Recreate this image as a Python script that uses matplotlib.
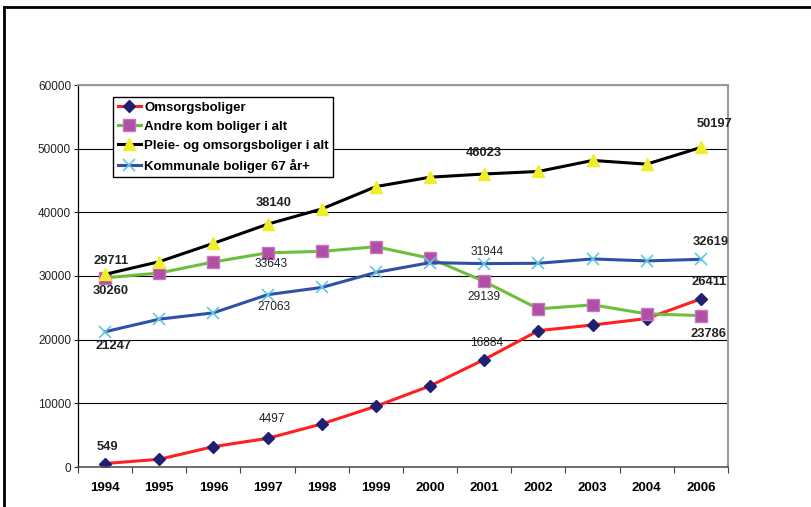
"""Pleie- og omsorgsboliger 1994-2006, line chart."""

import matplotlib
matplotlib.use("Agg")
import matplotlib.pyplot as plt
from matplotlib.lines import Line2D
from matplotlib.ticker import FixedLocator, NullFormatter

years = ["1994", "1995", "1996", "1997", "1998", "1999", "2000",
         "2001", "2002", "2003", "2004", "2006"]

omsorgsboliger = [549, 1210, 3200, 4497, 6760, 9540, 12740,
                  16884, 21420, 22300, 23320, 26411]
andre_kom = [29711, 30470, 32200, 33643, 33870, 34600, 32790,
             29139, 24840, 25470, 24050, 23786]
pleie_omsorg = [30260, 32250, 35130, 38140, 40530, 44040, 45520,
                46023, 46420, 48150, 47570, 50197]
kommunale_67 = [21247, 23220, 24210, 27063, 28200, 30560, 32100,
                31944, 32000, 32680, 32370, 32619]

series_names = ["Omsorgsboliger", "Andre kom boliger i alt",
                "Pleie- og omsorgsboliger i alt", "Kommunale boliger 67 år+"]

# (series index, year index, offset px, bold)
labels = [
    (0, 0, (2, 17), True),
    (0, 3, (4, 19), False),
    (0, 7, (2, 17), False),
    (0, 11, (8, 17), True),
    (1, 0, (6, 17), True),
    (1, 3, (4, -11), False),
    (1, 7, (0, -16), False),
    (1, 11, (8, -18), True),
    (2, 0, (6, -17), True),
    (2, 3, (6, 21), True),
    (2, 7, (0, 21), True),
    (2, 11, (14, 23), True),
    (3, 0, (8, -14), True),
    (3, 3, (6, -12), False),
    (3, 7, (3, 12), False),
    (3, 11, (10, 17), True),
]

FONT = ["Liberation Sans", "DejaVu Sans"]
plt.rcParams["font.family"] = FONT

W, H = 812, 507
fig = plt.figure(figsize=(W / 100, H / 100), dpi=100)
ax = fig.add_axes([78 / W, 1 - 467 / H, 650 / W, 382 / H])

x = list(range(len(years)))
data = [omsorgsboliger, andre_kom, pleie_omsorg, kommunale_67]
styles = [
    dict(color="#ff2020", marker="D", ms=6.5, mfc="#1f2070", mec="#1f2070"),
    dict(color="#6cbf3c", marker="s", ms=9, mfc="#b04ea8", mec="#c07ab8"),
    dict(color="#000000", marker="^", ms=9, mfc="#f0ee2a", mec="#f0ee2a"),
    dict(color="#3050a8", marker="x", ms=8, mfc="#60c8e0", mec="#60c8e0", mew=1.2),
]
for vals, name, st in zip(data, series_names, styles):
    ax.plot(x, vals, lw=2.2, label=name, **st)

for si, yi, (dx, dy), bold in labels:
    v = data[si][yi]
    ax.annotate(str(v), (x[yi], v), xytext=(dx, dy), textcoords="offset pixels",
                ha="center", va="center", fontsize=9.3 if bold else 8.6,
                fontweight="bold" if bold else "normal", color="#222222")

ax.set_ylim(0, 60000)
ax.set_xlim(-0.5, len(years) - 0.5)
ax.set_yticks(range(0, 60001, 10000))
ax.tick_params(axis="y", direction="out", length=3, width=0.8, pad=2, labelsize=8.5,
               colors="#222222")
ax.yaxis.grid(True, color="black", lw=0.8)
ax.set_axisbelow(True)

# category axis: ticks between categories, labels centred
ax.xaxis.set_major_locator(FixedLocator([i - 0.5 for i in range(len(years) + 1)]))
ax.xaxis.set_major_formatter(NullFormatter())
ax.xaxis.set_minor_locator(FixedLocator(x))
ax.set_xticklabels(years, minor=True)
ax.tick_params(axis="x", which="major", direction="out", length=4, width=0.8,
               color="#444444")
ax.tick_params(axis="x", which="minor", length=0, pad=11, labelsize=8.2)
for t in ax.get_xticklabels(minor=True):
    t.set_fontweight("bold")
    t.set_family(["Liberation Sans Narrow", "Liberation Sans"])
    t.set_fontsize(9.5)

ax.spines["left"].set_color("black")
ax.spines["left"].set_linewidth(0.9)
ax.spines["bottom"].set_color("#555555")
ax.spines["bottom"].set_linewidth(1.2)
for s in ("top", "right"):
    ax.spines[s].set_color("#9a9a9a")
    ax.spines[s].set_linewidth(1.5)

leg = ax.legend(loc="upper left", bbox_to_anchor=(35 / 650, 1 - 11.7 / 382),
                borderaxespad=0, fancybox=False, edgecolor="black",
                framealpha=1, prop={"weight": "bold", "size": 9.5},
                handlelength=1.8, handletextpad=0.2, labelspacing=0.52,
                borderpad=0.35)
leg.get_frame().set_linewidth(1.0)

# outer chart frame (top and left visible)
fig.add_artist(Line2D([4 / W, 1], [1 - 7 / H, 1 - 7 / H], transform=fig.transFigure,
                      color="black", lw=2))
fig.add_artist(Line2D([4 / W, 4 / W], [0, 1 - 7 / H], transform=fig.transFigure,
                      color="black", lw=2))

fig.savefig("out.png", dpi=100)
